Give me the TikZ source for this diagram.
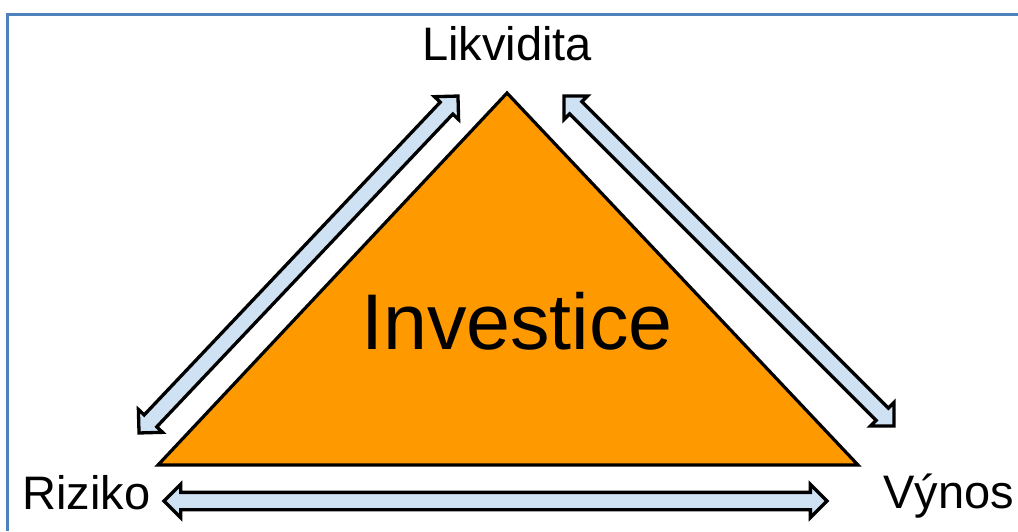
\documentclass[tikz,border=0pt]{standalone}
\usepackage{fontspec}
\setmainfont{Liberation Sans}
\usepackage{xcolor}
\usetikzlibrary{calc,shapes.arrows}
\definecolor{framecol}{HTML}{4F81BD}
\definecolor{triorange}{HTML}{FF9900}
\definecolor{arrowblue}{HTML}{CFE2F3}
\newcommand{\blockarrow}[2]{%
  \path let \p1=($(#2)-(#1)$), \n1={veclen(\x1,\y1)}, \n2={atan2(\y1,\x1)} in
    node[dblarrow,minimum height=\n1,rotate=\n2] at ($(#1)!0.5!(#2)$) {};}

\begin{document}
\begin{tikzpicture}[x=1pt,y=-1pt,
  dblarrow/.style={double arrow,draw=black,line width=3.3pt,fill=arrowblue,
    inner xsep=0pt,inner ysep=7pt,minimum width=0pt,
    double arrow head extend=8pt,double arrow head indent=0pt,double arrow tip angle=90},
  label/.style={font=\fontsize{47}{52}\selectfont,inner sep=0pt}]
  \useasboundingbox (0,0) rectangle (1018,531);
  \draw[framecol,line width=3pt] (1018,14) -- (7,14) -- (7,531);
  % triangle
  \coordinate (top) at (507,93);
  \coordinate (left) at (158,465);
  \coordinate (right) at (858,465);
  \draw[fill=triorange,line width=3.2pt,line join=miter] (top) -- (right) -- (left) -- cycle;
  \node[font=\fontsize{79}{84}\selectfont,anchor=base,inner sep=0pt] (inv) at (517,349) {Investice};
  % corner labels
  \node[label,anchor=base] (likv) at (507,60) {Likvidita};
  \node[label,anchor=base west] (rizi) at (22,509) {Riziko};
  \node[label,anchor=base east] (vyno) at (1014,508) {Výnos};
  % arrow ends
  \coordinate (l1) at (139,433);
  \coordinate (l2) at (458,96);
  \coordinate (r1) at (564,96);
  \coordinate (r2) at (894,426);
  \coordinate (b1) at (164,501);
  \coordinate (b2) at (827,501);
  \blockarrow{l1}{l2}
  \blockarrow{r1}{r2}
  \blockarrow{b1}{b2}
\end{tikzpicture}
\end{document}
